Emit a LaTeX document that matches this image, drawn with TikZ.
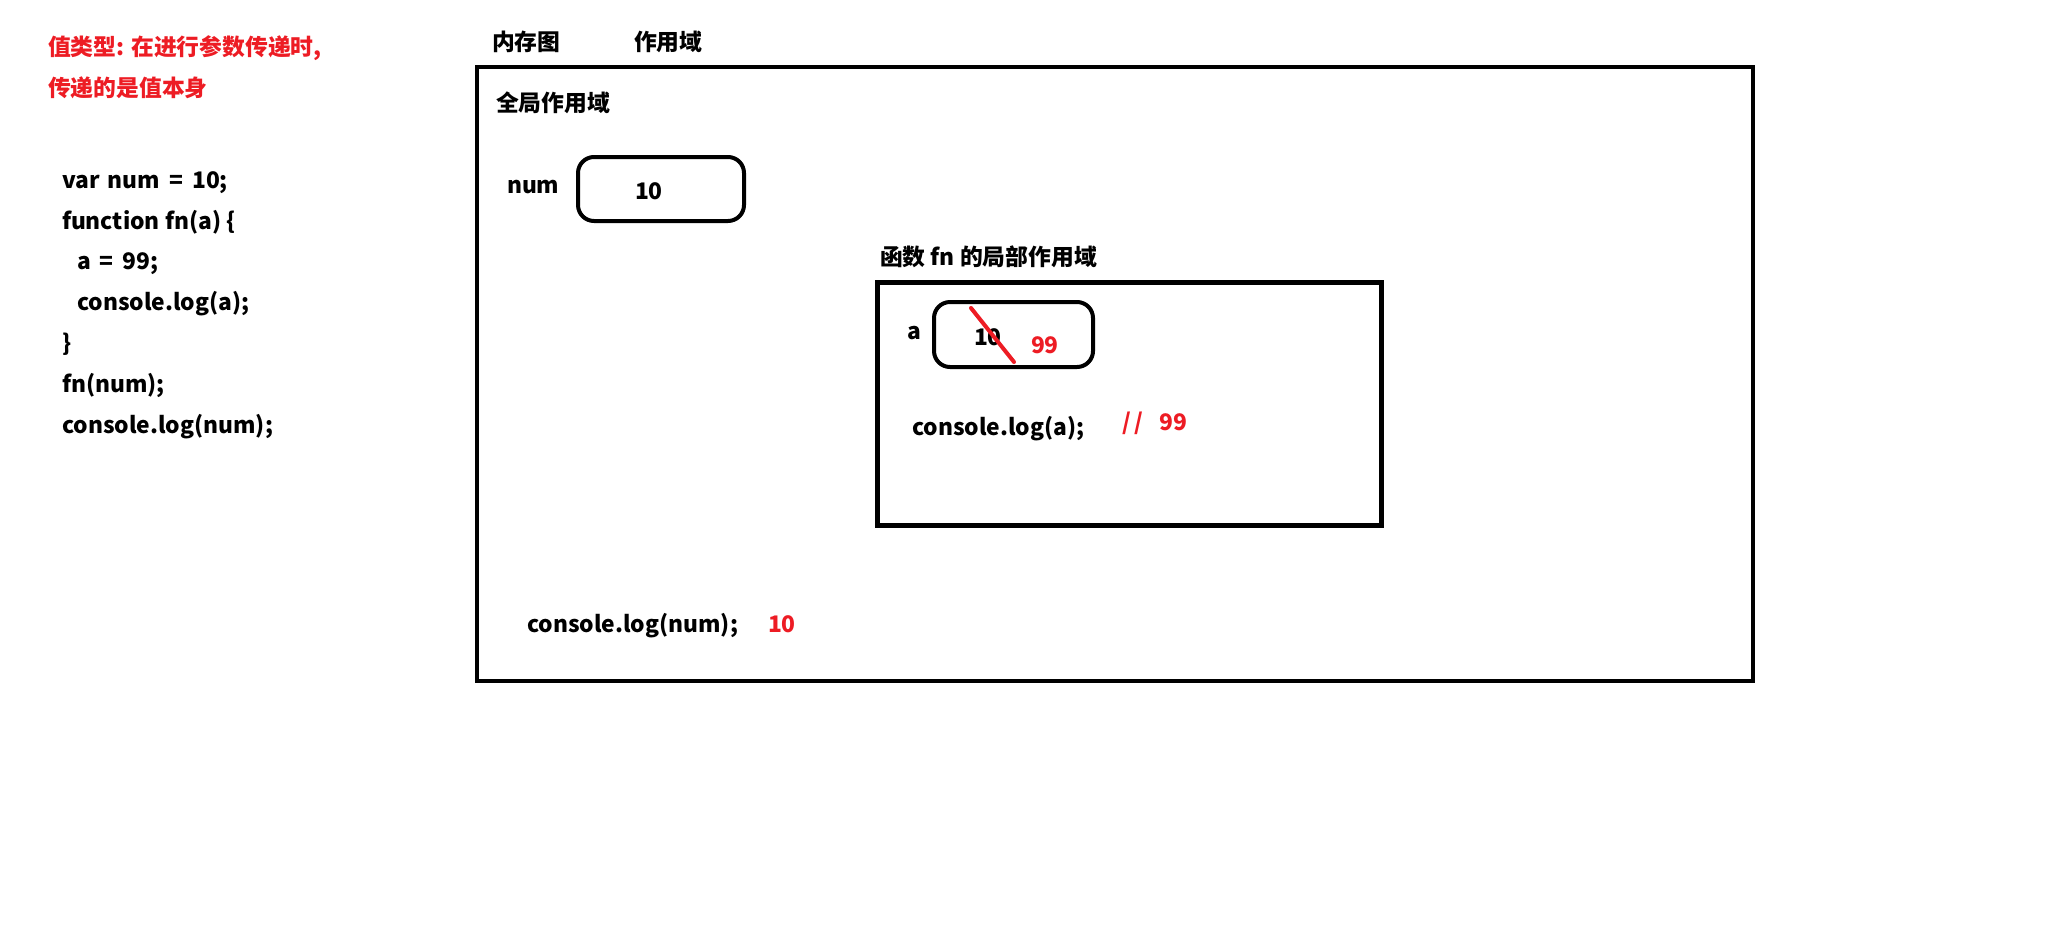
\documentclass[tikz,border=0pt]{standalone}
\usepackage{fontspec}
\setmainfont{Noto Sans CJK SC}
\definecolor{mred}{RGB}{237,28,36}
\newcommand{\eqsp}{\hspace{4.5pt}=\hspace{4.5pt}}
\begin{document}
\begin{tikzpicture}[x=0.5pt,y=-0.5pt,
  every node/.style={inner sep=0pt,outer sep=0pt},
  cjk/.style={anchor=west,font=\fontsize{11.4}{13}\selectfont\bfseries},
  redcjk/.style={cjk,text=mred},
  code/.style={anchor=base west,font=\fontsize{11.4}{13}\selectfont\bfseries},
  redcode/.style={code,text=mred},
  frame/.style={draw,line width=2.4pt},
  cell/.style={draw,line width=2pt,rounded corners=8pt}]
\useasboundingbox (0,0) rectangle (2054,938);
% left side
\node[redcjk] (t1) at (48,48) {值类型: 在进行参数传递时,};
\node[redcjk] (t2) at (48,88) {传递的是值本身};
\node[code] (c1) at (62,188) {var\hspace{1.5pt} num\eqsp 10;};
\node[code] (c2) at (62,229) {function fn(a) \{};
\node[code] (c3) at (77,269) {a\eqsp 99;};
\node[code] (c4) at (77,310) {console.log(a);};
\node[code] (c5) at (62,351) {\}};
\node[code] (c6) at (62,392) {fn(num);};
\node[code] (c7) at (62,433) {console.log(num);};
% headings
\node[cjk] (h1) at (492,42) {内存图};
\node[cjk] (h2) at (634,42) {作用域};
% global scope
\node[frame,minimum width=638pt,minimum height=307pt] (global) at (1115,374) {};
\node[cjk] (gl) at (496,103) {全局作用域};
\node[code] (numlbl) at (507,193) {num};
\node[cell,minimum width=83pt,minimum height=32pt] (numbox) at (661,189) {};
\node[code] (numval) at (635,199) {10};
% local scope
\node[cjk] (ll) at (880,257) {函数 fn 的局部作用域};
\node[frame,minimum width=252pt,minimum height=121.5pt] (local) at (1129.5,404) {};
\node[code] (albl) at (907,339) {a};
\node[cell,minimum width=79.5pt,minimum height=32.5pt] (abox) at (1013.5,334.5) {};
\node[code] (aval) at (974,345) {10};
\coordinate (s1) at (971,308);
\coordinate (s2) at (1014,362);
\draw[mred,line width=2pt,line cap=round] (s1) -- (s2);
\node[redcode] (anew) at (1031,353) {99};
\node[code] (log1) at (912,435) {console.log(a);};
\node[redcode] (out1) at (1122,430) {/\kern2pt/\hspace{8pt}99};
\node[code] (log2) at (527,632) {console.log(num);};
\node[redcode] (out2) at (768,632) {10};
\end{tikzpicture}
\end{document}
